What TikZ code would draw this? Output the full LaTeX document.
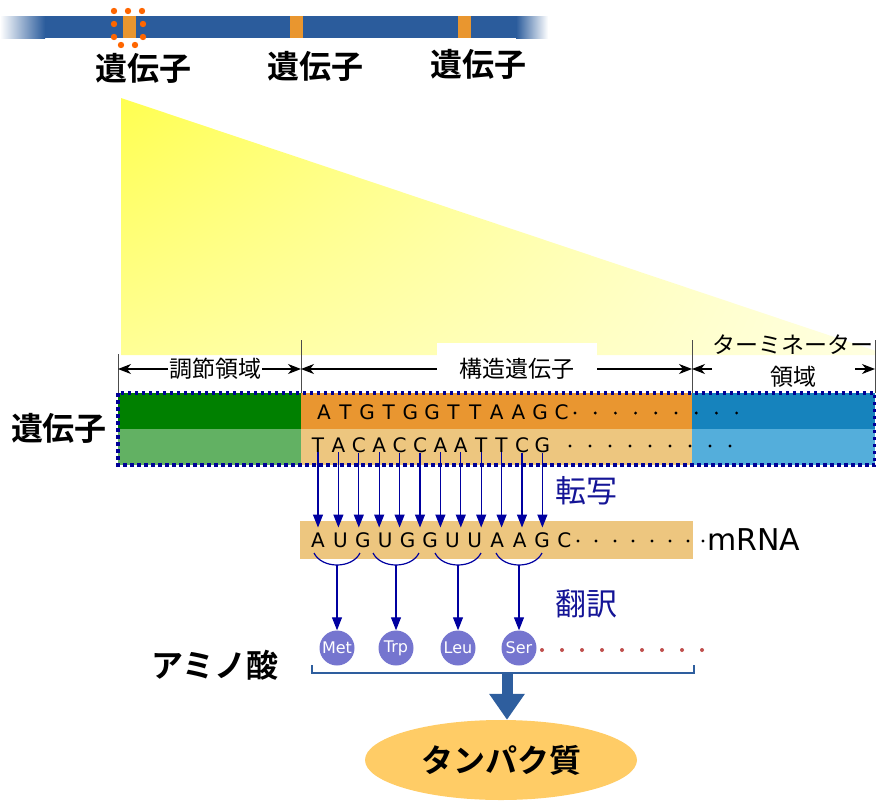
\documentclass[tikz,border=0pt]{standalone}
\usepackage{fontspec}
\setmainfont{DejaVu Sans}
\newfontfamily\jp{Noto Sans CJK JP}[BoldFont={Noto Sans CJK JP Bold}]
\usepackage{tikz}
\usetikzlibrary{shapes, arrows, arrows.meta, calc, positioning, shadings}

\definecolor{barblue}{RGB}{43,92,156}
\definecolor{geneorange}{RGB}{233,150,47}
\definecolor{dotorange}{RGB}{255,102,0}
\definecolor{greenA}{RGB}{0,128,0}
\definecolor{greenB}{RGB}{98,177,99}
\definecolor{orangeA}{RGB}{233,150,48}
\definecolor{orangeB}{RGB}{237,198,127}
\definecolor{blueA}{RGB}{22,131,189}
\definecolor{blueB}{RGB}{84,174,219}
\definecolor{boxnavy}{RGB}{0,0,150}
\definecolor{arrnavy}{RGB}{0,0,160}
\definecolor{jnavy}{RGB}{20,20,150}
\definecolor{aacirc}{RGB}{117,117,207}
\definecolor{reddot}{RGB}{192,80,77}
\definecolor{brackblue}{RGB}{46,94,158}
\definecolor{protfill}{RGB}{255,204,102}
\definecolor{yelA}{RGB}{255,255,80}
\definecolor{yelB}{RGB}{255,255,150}
\definecolor{yelC}{RGB}{255,255,225}

\begin{document}
\begin{tikzpicture}[x=1pt,y=-1pt,
    jbig/.style={font=\jp\bfseries\fontsize{32}{36}\selectfont, inner sep=0pt},
    dimlbl/.style={font=\jp\fontsize{23}{32}\selectfont, inner sep=1pt},
    dim/.style={-{Stealth[length=13pt,width=10pt,inset=4pt]}, line width=1.2pt, black},
    tick/.style={line width=0.8pt, black!70},
    jlbl/.style={font=\jp\fontsize{31}{34}\selectfont, text=jnavy},
    tr/.style={-{Triangle[length=13pt,width=10pt]}, draw=arrnavy, line width=1.2pt},
    codon/.style={draw=arrnavy, line width=1.2pt},
    amino/.style={circle, fill=aacirc, minimum size=35pt, inner sep=0pt, text=white,
        font=\fontsize{16}{18}\selectfont},
    bigarr/.style={-{Triangle[length=26pt,width=34pt]}, draw=brackblue, line width=11pt}]

    \useasboundingbox (0,0) rectangle (876,801);

    % chromosome bar
    \fill[barblue] (44,16) rectangle (517,38);
    \shade[left color=white, right color=barblue] (0,16) rectangle (45,38);
    \shade[left color=barblue, right color=white] (516,16) rectangle (548,38);
    \foreach \x in {123,290,458}
        \fill[geneorange] (\x,16) rectangle (\x+13,38);
    \foreach \p in {(114,11),(128,11),(142,11),(114,24),(143,24),(114,37),(143,37),(121,45),(135,45)}
        \fill[dotorange] \p circle (3.2pt);

    \node[jbig] (g1) at (143,68) {遺伝子};
    \node[jbig] (g2) at (315,66) {遺伝子};
    \node[jbig] (g3) at (478,64) {遺伝子};

    % zoom triangle
    \shade[upper left=yelA, upper right=yelC, lower left=yelB, lower right=yelC]
        (121,98) -- (876,351) -- (876,355) -- (121,355) -- cycle;

    % region marks
    \draw[tick] (118,354) -- (118,393);
    \draw[tick] (301,340) -- (301,393);
    \draw[tick] (692,340) -- (692,393);
    \draw[tick] (875,340) -- (875,393);
    \coordinate (k1) at (118,369);
    \coordinate (k2) at (301,369);
    \coordinate (k3) at (692,369);
    \coordinate (k4) at (875,369);
    \coordinate (a3) at (712,369);
    \coordinate (b3) at (855,369);

    \node[dimlbl] (reg) at (215,369) {調節領域};
    \node[dimlbl, fill=white, minimum width=160pt, minimum height=52pt] (str) at (517,369) {構造遺伝子};
    \node[dimlbl, align=center] (term) at (793,361) {ターミネーター\\領域};

    \draw[dim] (reg) -- (k1);
    \draw[dim] (reg) -- (k2);
    \draw[dim] (str) -- (k2);
    \draw[dim] (str) -- (k3);
    \draw[dim] (a3) -- (k3);
    \draw[dim] (b3) -- (k4);

    % gene double strand
    \fill[greenA] (118,393) rectangle (301,429);
    \fill[greenB] (118,429) rectangle (301,465);
    \fill[orangeA] (301,393) rectangle (692,429);
    \fill[orangeB] (301,429) rectangle (692,465);
    \fill[blueA] (692,393) rectangle (875,429);
    \fill[blueB] (692,429) rectangle (875,465);
    \draw[boxnavy, line width=3.5pt, dash pattern=on 3.5pt off 3.5pt] (118,393) rectangle (875,465);

    \node[jbig] (gene) at (59,428) {遺伝子};

    \begin{scope}
    \tikzstyle{every node}=[inner sep=0pt, font=\fontsize{20}{24}\selectfont]
    \foreach \b [count=\i from 0] in {A,T,G,T,G,G,T,T,A,A,G,C}
        \node (u\i) at (324+21.6*\i,412) {\b};
    \foreach \b [count=\i from 0] in {T,A,C,A,C,C,A,A,T,T,C,G}
        \node (l\i) at (318+20.4*\i,445) {\b};
    \end{scope}
    \foreach \i in {0,...,8} {
        \fill (575+20.2*\i,413) circle (1.6pt);
        \fill (570+20*\i,446) circle (1.6pt);
    }

    % mRNA
    \fill[orangeB] (300,521) rectangle (693,559);
    \begin{scope}
    \tikzstyle{every node}=[inner sep=0pt, font=\fontsize{20}{24}\selectfont]
    \foreach \b [count=\i from 0] in {A,U,G,U,G,G,U,U,A,A,G,C}
        \node (m\i) at (318+22.4*\i,540) {\b};
    \end{scope}
    \foreach \x in {578,596,615,633,652,670,688,703}
        \fill (\x,541) circle (1.6pt);
    \node[anchor=west, inner sep=0pt, font=\fontsize{30}{34}\selectfont] (mrna) at (707,540) {mRNA};

    % transcription
    \foreach \i in {0,...,11}
        \draw[tr, shorten >=5pt] (l\i.south) -- (l\i.south |- m0.north);
    \node[jlbl] (tsc) at (586,491) {転写};

    % translation
    \foreach \c/\x/\aa in {0/337/Met,1/396/Trp,2/458/Leu,3/519/Ser} {
        \draw[codon] (\x-23,553) .. controls (\x-15,569) and (\x+15,569) .. (\x+23,553);
        \coordinate (c\c) at (\x,565);
        \node[amino] (aa\c) at (\x,648) {\aa};
        \draw[tr] (c\c) -- (aa\c);
    }
    \node[jlbl] (tsl) at (586,604) {翻訳};
    \foreach \i in {0,...,8}
        \fill[reddot] (542+20*\i,650) circle (2pt);

    \node[jbig] (amino) at (215,665) {アミノ酸};

    % protein
    \draw[brackblue, line width=2pt] (312,665) -- (312,673) -- (694,673) -- (694,665);
    \coordinate (bk) at (507,673);
    \node[ellipse, fill=protfill, minimum width=272pt, minimum height=80pt, font=\jp\bfseries\fontsize{32}{36}\selectfont] (prot) at (501,760) {タンパク質};
    \draw[bigarr] (bk) -- (bk |- prot.north);

\end{tikzpicture}
\end{document}
